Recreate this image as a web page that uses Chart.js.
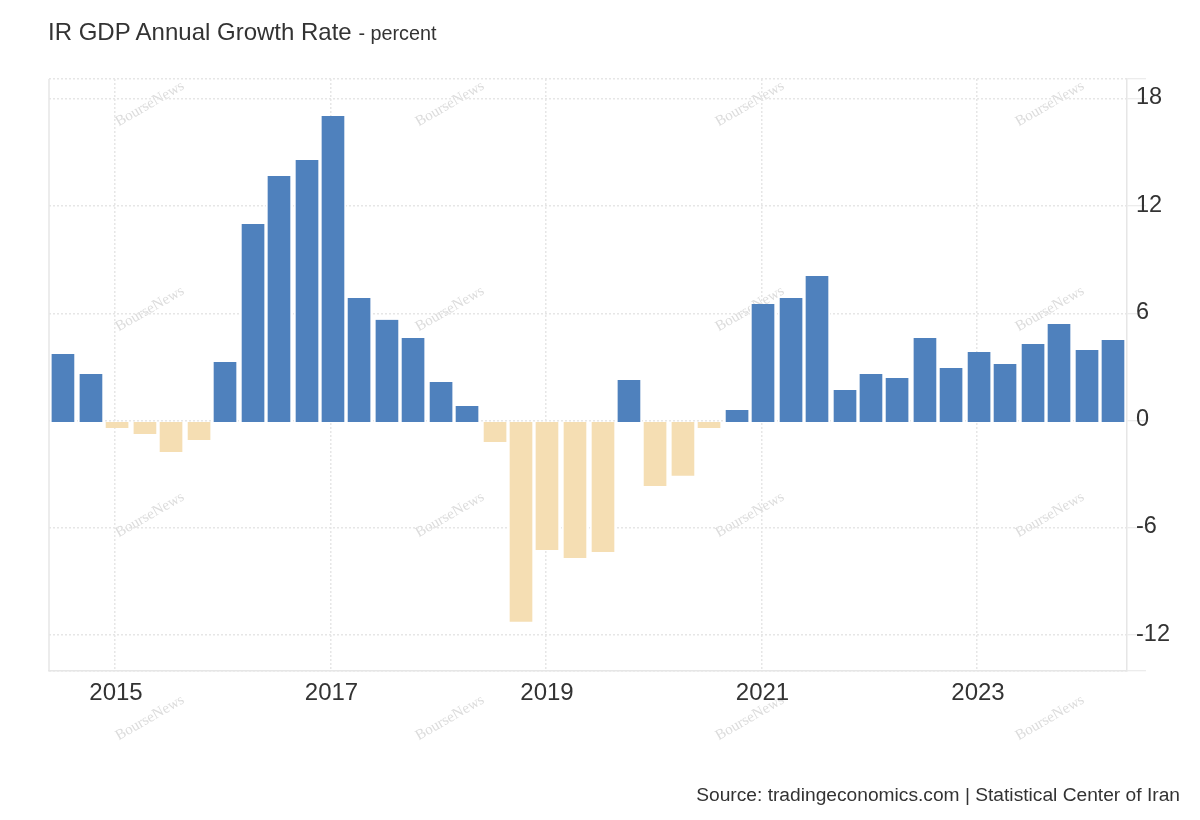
<!DOCTYPE html>
<html>
<head>
<meta charset="utf-8">
<title>IR GDP Annual Growth Rate</title>
<script src="https://cdn.jsdelivr.net/npm/chart.js@4"></script>
<style>
  html, body { margin: 0; background: #fff; }
  #wrap { position: relative; width: 1200px; height: 820px; overflow: hidden; font-family: "Liberation Sans", Arial, sans-serif; color: #333; }
  canvas { display: block; }
  #title { position: absolute; left: 48px; top: 17px; font-size: 24px; line-height: 30px; white-space: nowrap; }
  #title span { font-size: 19.8px; }
  #source { position: absolute; right: 20px; top: 784px; font-size: 19.2px; line-height: 22px; white-space: nowrap; }
</style>
</head>
<body>
<div id="wrap">
  <canvas id="graph" width="1200" height="820"></canvas>
  <div id="title">IR GDP Annual Growth Rate <span>- percent</span></div>
  <div id="source">Source: tradingeconomics.com | Statistical Center of Iran</div>
</div>
<script>
// periods in decimal years
const periods = [
  2014.517, 2014.777, 2015.019, 2015.278, 2015.520, 2015.780, 2016.021, 2016.281,
  2016.522, 2016.782, 2017.023, 2017.265, 2017.524, 2017.766, 2018.026, 2018.267,
  2018.527, 2018.768, 2019.009, 2019.269, 2019.529, 2019.770, 2020.012, 2020.271,
  2020.513, 2020.773, 2021.014, 2021.274, 2021.515, 2021.775, 2022.016, 2022.258,
  2022.517, 2022.759, 2023.019, 2023.260, 2023.520, 2023.761, 2024.021, 2024.262
];
const growth = [
  3.73, 2.61, -0.41, -0.74, -1.75, -1.08, 3.28, 11.01,
  13.69, 14.59, 17.05, 6.87, 5.64, 4.63, 2.17, 0.82,
  -1.19, -11.26, -7.24, -7.68, -7.35, 2.28, -3.65, -3.09,
  -0.41, 0.60, 6.53, 6.87, 8.10, 1.72, 2.61, 2.39,
  4.63, 2.95, 3.84, 3.17, 4.29, 5.41, 3.96, 4.52
];
const yearTicks = [2015, 2017, 2019, 2021, 2023];
const valueTicks = [-12, -6, 0, 6, 12, 18];

const xMin = 2014.3875, xMax = 2024.392;
const yMin = -14.01, yMax = 19.12;

const gridColor = '#e6e6e6';
const watermarkCols = [150, 450, 750, 1050];
const watermarkRows = [104, 309, 515, 718];

// filigrane sous les barres
const watermark = {
  id: 'watermark',
  beforeDraw(chart) {
    const ctx = chart.ctx;
    ctx.save();
    ctx.font = '15px "Liberation Serif", serif';
    ctx.fillStyle = '#dcdcdc';
    ctx.textAlign = 'center';
    ctx.textBaseline = 'middle';
    watermarkRows.forEach(y => watermarkCols.forEach(x => {
      ctx.save();
      ctx.translate(x, y);
      ctx.rotate(-30 * Math.PI / 180);
      ctx.fillText('BourseNews', 0, 0);
      ctx.restore();
    }));
    ctx.restore();
  }
};

// trait plein à gauche de la zone du graphique
const leftLine = {
  id: 'leftLine',
  afterDraw(chart) {
    const { left, top, bottom } = chart.chartArea;
    const ctx = chart.ctx;
    ctx.save();
    ctx.strokeStyle = gridColor;
    ctx.lineWidth = 1.5;
    ctx.beginPath();
    ctx.moveTo(left, top);
    ctx.lineTo(left, bottom);
    ctx.stroke();
    ctx.restore();
  }
};

new Chart(document.getElementById('graph'), {
  type: 'bar',
  data: {
    datasets: [{
      label: 'GDP Annual Growth Rate',
      data: periods.map((p, i) => ({ x: p, y: growth[i] })),
      base: -0.07,
      barThickness: 26,
      backgroundColor: ctx => ctx.raw.y < 0 ? '#f5deb3' : '#4f81bd',
      borderColor: '#ffffff',
      borderWidth: { left: 2, right: 2, top: 0, bottom: 0 },
      borderSkipped: false
    }]
  },
  options: {
    responsive: false,
    animation: false,
    devicePixelRatio: 1,
    layout: { padding: { left: 49, top: 79, right: 0, bottom: 0 } },
    plugins: { legend: { display: false }, title: { display: false }, tooltip: { enabled: false } },
    scales: {
      x: {
        type: 'linear',
        min: xMin,
        max: xMax,
        offset: false,
        afterFit: s => { s.height = 149; },
        afterBuildTicks: s => { s.ticks = yearTicks.map(v => ({ value: v })); },
        grid: { offset: false, color: gridColor, lineWidth: 1.5, drawTicks: false },
        border: { color: gridColor, width: 1.5, dash: [2, 2] },
        ticks: {
          autoSkip: false,
          maxRotation: 0,
          padding: 8,
          labelOffset: 1,
          color: '#333333',
          font: { family: '"Liberation Sans", Arial, sans-serif', size: 24 },
          callback: v => String(v)
        }
      },
      y: {
        position: 'right',
        min: yMin,
        max: yMax,
        afterFit: s => { s.width = 73; },
        afterBuildTicks: s => { s.ticks = [yMin, ...valueTicks, yMax].map(v => ({ value: v })); },
        grid: { color: gridColor, lineWidth: 1.5, tickLength: 19, tickColor: gridColor, tickWidth: 1 },
        border: { color: gridColor, width: 1.5, dash: [2, 2] },
        ticks: {
          autoSkip: false,
          padding: -10,
          labelOffset: -1,
          color: '#333333',
          font: { family: '"Liberation Sans", Arial, sans-serif', size: 23.5 },
          callback: v => valueTicks.includes(v) ? String(v) : ''
        }
      }
    }
  },
  plugins: [watermark, leftLine]
});
</script>
</body>
</html>
